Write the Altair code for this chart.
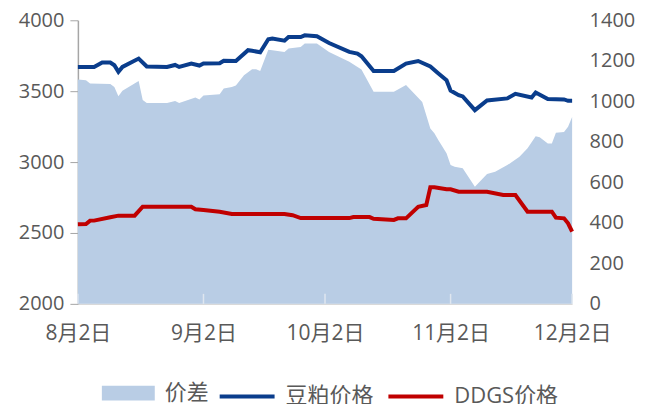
import altair as alt
import pandas as pd

START = "2020-08-02"

# 豆粕价格 (left axis)
soy_days = [0, 4, 6, 8, 9, 10, 11, 15, 17, 22, 24, 25, 28, 30, 31, 35, 36, 39, 42, 43, 45,
            47, 48, 51, 52, 55, 56, 59, 62, 67, 69, 70, 73, 78, 81, 84, 87, 89, 91, 92, 94,
            95, 98, 101, 106, 108, 112, 113, 116, 120, 121, 122]
soy_vals = [3670, 3670, 3702, 3702, 3683, 3636, 3671, 3730, 3674, 3671, 3685, 3671, 3695, 3681,
            3695, 3697, 3715, 3713, 3789, 3785, 3775, 3866, 3871, 3856, 3882, 3882, 3894, 3887,
            3840, 3777, 3765, 3746, 3643, 3643, 3695, 3713, 3674, 3625, 3577, 3504, 3472, 3463,
            3366, 3434, 3449, 3481, 3456, 3491, 3444, 3442, 3432, 3432]

# DDGS价格 (left axis)
ddgs_days = [0, 2, 3, 4, 8, 10, 14, 16, 28, 29, 31, 35, 38, 45, 51, 53, 55, 67, 68, 72, 73, 78,
             79, 81, 84, 86, 87, 88, 91, 92, 94, 101, 105, 108, 111, 117, 118, 120, 121, 122]
ddgs_vals = [2561, 2563, 2587, 2587, 2611, 2622, 2622, 2685, 2685, 2667, 2662, 2650, 2634, 2634,
             2634, 2625, 2605, 2605, 2612, 2612, 2600, 2592, 2603, 2603, 2685, 2697, 2822, 2822,
             2808, 2808, 2791, 2791, 2768, 2768, 2650, 2650, 2608, 2603, 2568, 2509]

# 价差 (right axis)
spread_days = [0, 2, 3, 8, 9, 10, 11, 15, 16, 17, 22, 24, 25, 29, 30, 31, 35, 36, 38, 39, 41, 43,
               44, 45, 47, 48, 51, 52, 55, 56, 59, 62, 67, 70, 73, 78, 81, 85, 87, 88, 89, 91, 92,
               93, 95, 98, 101, 103, 106, 109, 111, 113, 114, 116, 117, 118, 120, 121, 122]
spread_vals = [1108, 1104, 1088, 1086, 1071, 1025, 1052, 1100, 1006, 992, 992, 1001, 992, 1019,
               1009, 1029, 1035, 1063, 1071, 1078, 1129, 1158, 1158, 1150, 1255, 1252, 1244, 1261,
               1268, 1285, 1285, 1244, 1195, 1157, 1047, 1047, 1080, 997, 866, 842, 808, 743, 685,
               677, 669, 578, 641, 652, 685, 726, 768, 828, 822, 792, 792, 845, 849, 874, 923]

tick_dates = ["2020-08-02", "2020-09-02", "2020-10-02", "2020-11-02", "2020-12-02"]
left_ticks = [2000, 2500, 3000, 3500, 4000]
right_ticks = [0, 200, 400, 600, 800, 1000, 1200, 1400]

FONT = "Open Sans, Noto Sans CJK SC"
TXT = "#595959"

start = pd.Timestamp(START)
df_area = pd.DataFrame({"date": start + pd.to_timedelta(spread_days, unit="D"),
                        "value": spread_vals, "series": "价差"})
df_soy = pd.DataFrame({"date": start + pd.to_timedelta(soy_days, unit="D"),
                       "value": soy_vals, "series": "豆粕价格"})
df_ddgs = pd.DataFrame({"date": start + pd.to_timedelta(ddgs_days, unit="D"),
                        "value": ddgs_vals, "series": "DDGS价格"})
df_lines = pd.concat([df_soy, df_ddgs], ignore_index=True)
df_ticks = pd.DataFrame({"date": pd.to_datetime(tick_dates)})

x_dom = [alt.DateTime(year=2020, month=8, date=2), alt.DateTime(year=2020, month=12, date=2)]
x_vals = [alt.DateTime(year=2020, month=m, date=2) for m in [8, 9, 10, 11, 12]]

x_enc = alt.X("date:T", scale=alt.Scale(domain=x_dom),
              axis=alt.Axis(values=x_vals, format="%-m月%-d日", title=None, grid=False,
                            tickSize=0, domainColor="#d9d9d9", domainWidth=1.5,
                            labelFontSize=21, labelColor=TXT, labelFont=FONT,
                            labelPadding=19, labelFlush=False))

area = alt.Chart(df_area).mark_area(interpolate="linear").encode(
    x=x_enc,
    y=alt.Y("value:Q", scale=alt.Scale(domain=[0, 1400], nice=False),
            axis=alt.Axis(orient="right", values=right_ticks, title=None, grid=False,
                          domain=False, ticks=False, labelPadding=17, labelAlign="left",
                          format="d",
                          labelFontSize=20, labelColor=TXT, labelFont=FONT)),
    fill=alt.Fill("series:N", scale=alt.Scale(domain=["价差"], range=["#b9cde5"]),
                  legend=alt.Legend(orient="none", legendX=24, legendY=347, title=None,
                                    direction="horizontal", padding=0,
                                    symbolType="M-1,-0.28L1,-0.28L1,0.28L-1,0.28Z",
                                    symbolSize=2809, symbolStrokeWidth=0, symbolOpacity=1,
                                    labelFontSize=22, labelColor=TXT, labelFont=FONT,
                                    labelOffset=10)),
)

ticks = alt.Chart(df_ticks).mark_rule(color="#dfe6ef", strokeWidth=1.5).encode(
    x=alt.X("date:T"),
    y=alt.value(274),
    y2=alt.value(284),
)

lines = alt.Chart(df_lines).mark_line(strokeWidth=4).encode(
    x=alt.X("date:T"),
    y=alt.Y("value:Q", scale=alt.Scale(domain=[2000, 4000], nice=False, zero=False),
            axis=alt.Axis(orient="left", values=left_ticks, title=None, grid=False,
                          tickSize=8, tickColor="#a6a6a6", domainColor="#a6a6a6",
                          domainWidth=1.5, labelPadding=6, format="d",
                          labelFontSize=20, labelColor=TXT, labelFont=FONT)),
    stroke=alt.Stroke("series:N",
                      scale=alt.Scale(domain=["豆粕价格", "DDGS价格"],
                                      range=["#0a3d8c", "#c00000"]),
                      legend=alt.Legend(orient="none", legendX=140, legendY=347, title=None,
                                        direction="horizontal", padding=0,
                                        symbolType="stroke", symbolSize=3025,
                                        symbolStrokeWidth=4, columnPadding=6,
                                        labelFontSize=22, labelColor=TXT, labelFont=FONT,
                                        labelOffset=9)),
    detail="series:N",
)

chart = alt.layer(area, ticks, lines).resolve_scale(y="independent").properties(
    width=495, height=284,
    padding={"left": 70, "top": 12, "right": 75, "bottom": 100},
    autosize=alt.AutoSizeParams(type="none"),
).configure_view(stroke=None)

chart.save("out.html", embed_options={"renderer": "svg", "actions": False})
